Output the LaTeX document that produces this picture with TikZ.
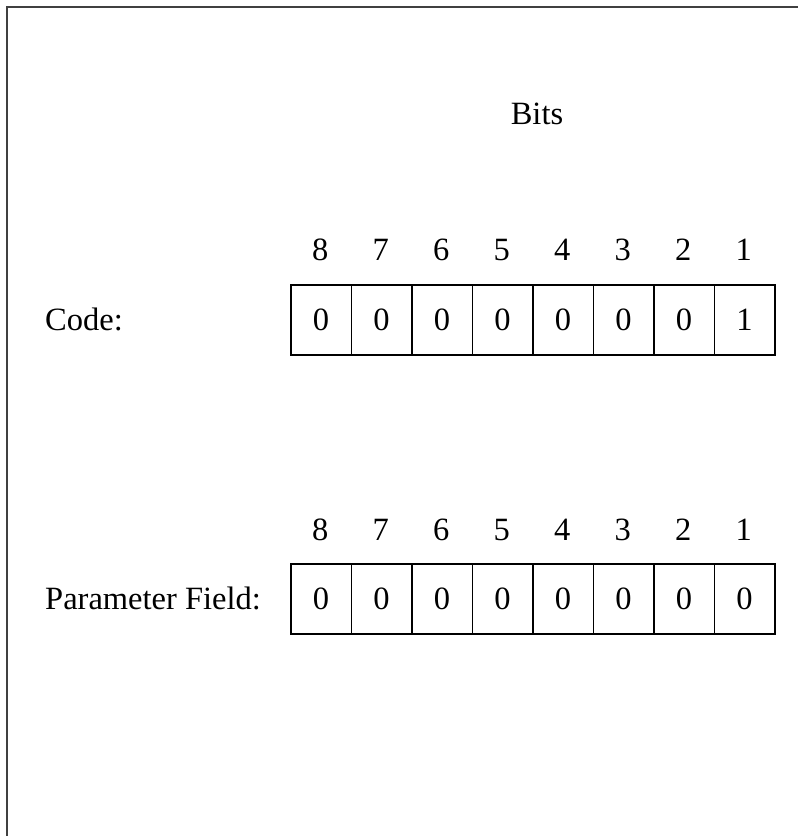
\documentclass[tikz,border=0pt]{standalone}
\usepackage{fontspec}
\setmainfont{Liberation Serif}
\begin{document}
\begin{tikzpicture}[x=1pt,y=-1pt,
  txt/.style={inner sep=0pt,font=\fontsize{32.5}{36}\selectfont},
  cell/.style={draw,line width=1.6pt,minimum width=60.5pt,minimum height=70pt,inner sep=0pt,anchor=north west,font=\fontsize{32.5}{36}\selectfont}]
\useasboundingbox (0,0) rectangle (798,836);
\draw[line width=2pt,black!75] (7,836) -- (7,6.5) -- (798,6.5);
\node[txt] (bits) at (537,114) {Bits};
\node[txt,anchor=west] (code) at (45,319) {Code:};
\node[txt,anchor=west] (param) at (45,598) {Parameter Field:};
\foreach \i/\b/\v/\w in {0/8/0/0,1/7/0/0,2/6/0/0,3/5/0/0,4/4/0/0,5/3/0/0,6/2/0/0,7/1/1/0}{
  \node[cell] (c\i) at (290+60.5*\i,284) {\v};
  \node[txt] (h\i) at (320.25+60.5*\i,250) {\b};
  \node[cell] (p\i) at (290+60.5*\i,563) {\w};
  \node[txt] (g\i) at (320.25+60.5*\i,530) {\b};
}
\end{tikzpicture}
\end{document}
